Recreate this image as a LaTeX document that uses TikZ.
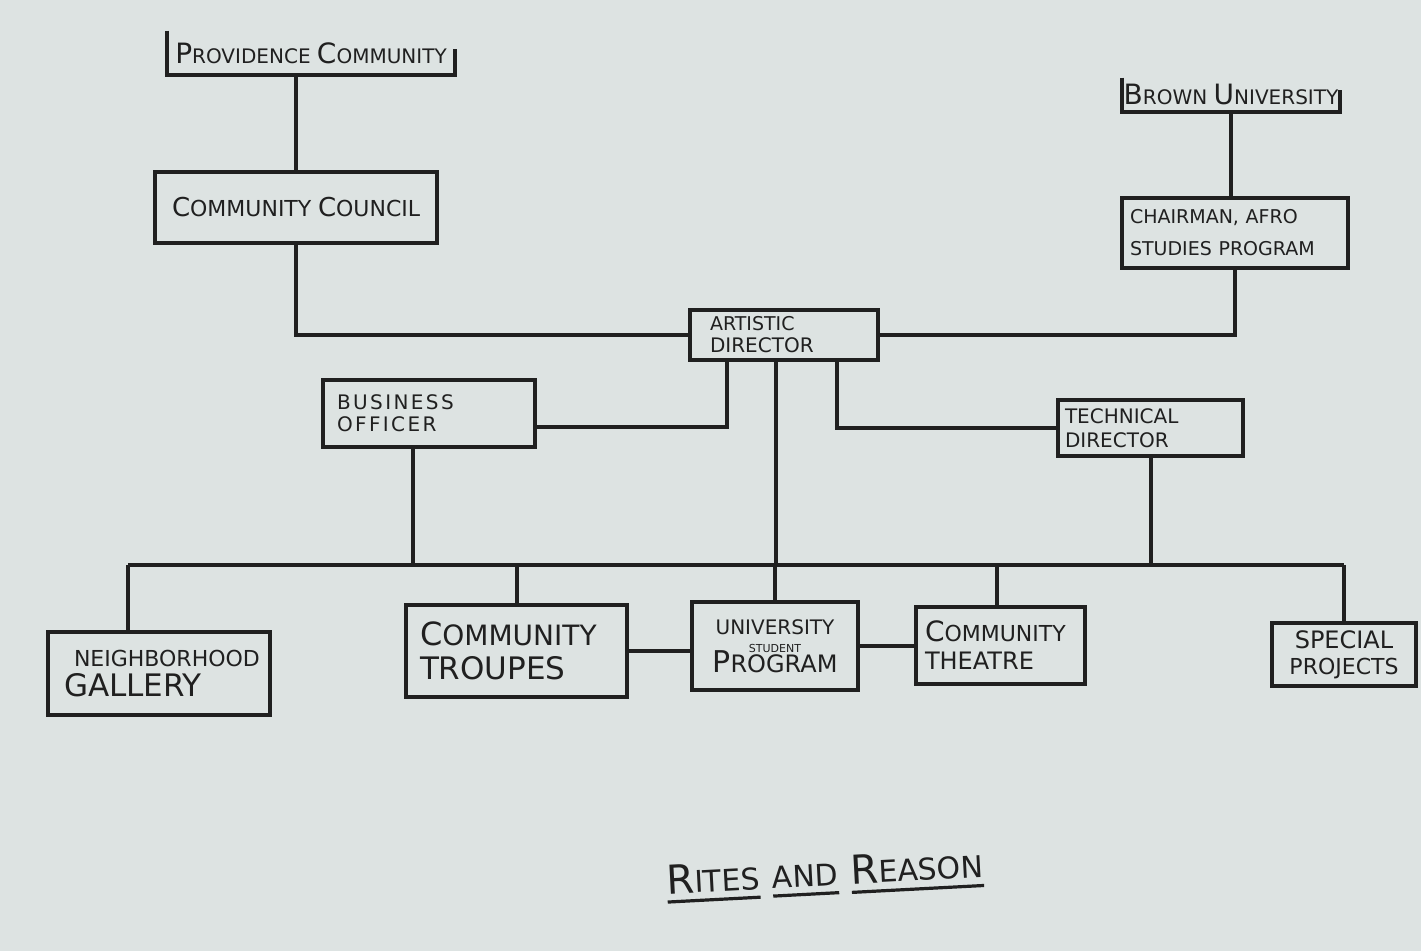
\documentclass[tikz,border=0pt]{standalone}
\usepackage{fontspec}
\setmainfont{DejaVu Sans}
\usetikzlibrary{calc}
\definecolor{paper}{HTML}{DDE3E2}
\definecolor{ink}{HTML}{202020}
\newcommand\Bg[2][14]{{\fontsize{#1}{#1}\selectfont #2}}
\newcommand\Sm[2][10]{{\fontsize{#1}{#1}\selectfont #2}}
\newcommand\thul[1]{\leavevmode\vtop{\hbox{#1}\kern3pt\hrule height 1.6pt}}
\begin{document}
\begin{tikzpicture}[x=0.5pt,y=-0.5pt,
  box/.style={draw=ink, line width=2pt, inner sep=0pt, align=left, text=ink},
  lbox/.style 2 args={box, inner xsep=#2, text width=#1-2*#2},
  bracket/.style={inner sep=0pt, text=ink},
  conn/.style={draw=ink, line width=2pt}]
\useasboundingbox[fill=paper] (0,0) rectangle (1421,951);
% top brackets
\node[bracket, minimum width=144pt, minimum height=22pt] (prov) at (311,53)
  {\Bg{P}\Sm{ROVIDENCE} \Bg{C}\Sm{OMMUNITY}};
\draw[conn] (prov.north west) -- (prov.south west) -- (prov.south east) -- ($(prov.south east)+(0,-26)$);
\node[bracket, minimum width=109pt, minimum height=17pt] (brown) at (1231,95)
  {\Bg{B}\Sm{ROWN} \Bg{U}\Sm{NIVERSITY}};
\draw[conn] (brown.north west) -- (brown.south west) -- (brown.south east) -- ($(brown.south east)+(0,-22)$);
% boxes
\node[lbox={141pt}{8.5pt}, minimum height=35.5pt] (council) at (296,207.5)
  {\mbox{\Bg[13]{C}\Sm[11]{OMMUNITY} \Bg[13]{C}\Sm[11]{OUNCIL}}};
\node[lbox={113pt}{4pt}, minimum height=35pt] (chair) at (1235,233)
  {\mbox{\Sm[9.5]{CHAIRMAN, AFRO}}\\[4pt]\mbox{\Sm[9.5]{STUDIES PROGRAM}}};
\node[lbox={94pt}{10pt}, minimum height=25pt] (ad) at (784,335)
  {\Sm[9.5]{ARTISTIC}\\[-1pt]\Sm[10]{DIRECTOR}};
\node[lbox={106pt}{7pt}, minimum height=33.5pt] (bo) at (429,413.5)
  {\Sm[10]{\addfontfeature{LetterSpace=12}BUSINESS}\\[-1pt]\Sm[10]{\addfontfeature{LetterSpace=12}OFFICER}};
\node[lbox={92.5pt}{3.5pt}, minimum height=28pt] (td) at (1150.5,428)
  {\Sm[10]{TECHNICAL}\\[0pt]\Sm[10]{DIRECTOR}};
\node[lbox={111pt}{8pt}, minimum height=41.5pt] (ng) at (159,673.5)
  {\mbox{\hspace*{5pt}\Sm[11]{NEIGHBORHOOD}}\\[3pt]\mbox{\Bg[15.5]{GALLERY}}};
\node[lbox={110.5pt}{7pt}, minimum height=46pt] (troupes) at (516.5,651)
  {\mbox{\Bg[16]{C}\Sm[14]{OMMUNITY}}\\[5pt]\mbox{\Sm[15.5]{TROUPES}}};
\node[box, minimum width=83pt, minimum height=44pt, align=center] (usp) at (775,646)
  {\Sm[10]{UNIVERSITY}\\[-3pt]\Sm[5.5]{STUDENT}\\[-2pt]\Bg[15]{P}\Sm[12]{ROGRAM}};
\node[lbox={84.5pt}{4.5pt}, minimum height=38.5pt] (cth) at (1000.5,645.5)
  {\mbox{\Bg[14]{C}\Sm[11]{OMMUNITY}}\\[2pt]\mbox{\Sm[12]{THEATRE}}};
\node[box, minimum width=72pt, minimum height=31.5pt, align=center] (sp) at (1344,654.5)
  {\Sm[12]{SPECIAL}\\[1pt]\Sm[11]{PROJECTS}};
% title
\node[text=ink, rotate=3] (title) at (825,876)
  {\thul{\Bg[20]{R}\Sm[15]{ITES}}\ \ \thul{\Sm[15]{AND}}\ \ \thul{\Bg[20]{R}\Sm[15]{EASON}}};
% connector points
\coordinate (busy) at (0,565);
\coordinate (ngtop) at ($(ng.north)+(-31,0)$);
\coordinate (adl) at ($(ad.south)+(-57,0)$);
\coordinate (adc) at ($(ad.south)+(-8,0)$);
\coordinate (adr) at ($(ad.south)+(53,0)$);
\coordinate (boe) at ($(bo.east)+(0,14)$);
\coordinate (bob) at ($(bo.south)+(-16,0)$);
\coordinate (ctht) at ($(cth.north)+(-4,0)$);
% connectors
\draw[conn] (council.north |- prov.south) -- (council.north);
\draw[conn] (brown.south) -- (brown.south |- chair.north);
\draw[conn] (council.south) |- (ad.west);
\draw[conn] (ad.east) -| (chair.south);
\draw[conn] (boe) -| (adl);
\draw[conn] (adr) |- (td.west);
\draw[conn] (ngtop |- busy) -- (sp.north |- busy);
\draw[conn] (adc) -- (adc |- busy);
\draw[conn] (bob) -- (bob |- busy);
\draw[conn] (td.south) -- (td.south |- busy);
\draw[conn] (ngtop |- busy) -- (ngtop);
\draw[conn] (troupes.north |- busy) -- (troupes.north);
\draw[conn] (usp.north |- busy) -- (usp.north);
\draw[conn] (ctht |- busy) -- (ctht);
\draw[conn] (sp.north |- busy) -- (sp.north);
\draw[conn] (troupes.east) -- (troupes.east -| usp.west);
\draw[conn] (usp.east) -- (usp.east -| cth.west);
\end{tikzpicture}
\end{document}
